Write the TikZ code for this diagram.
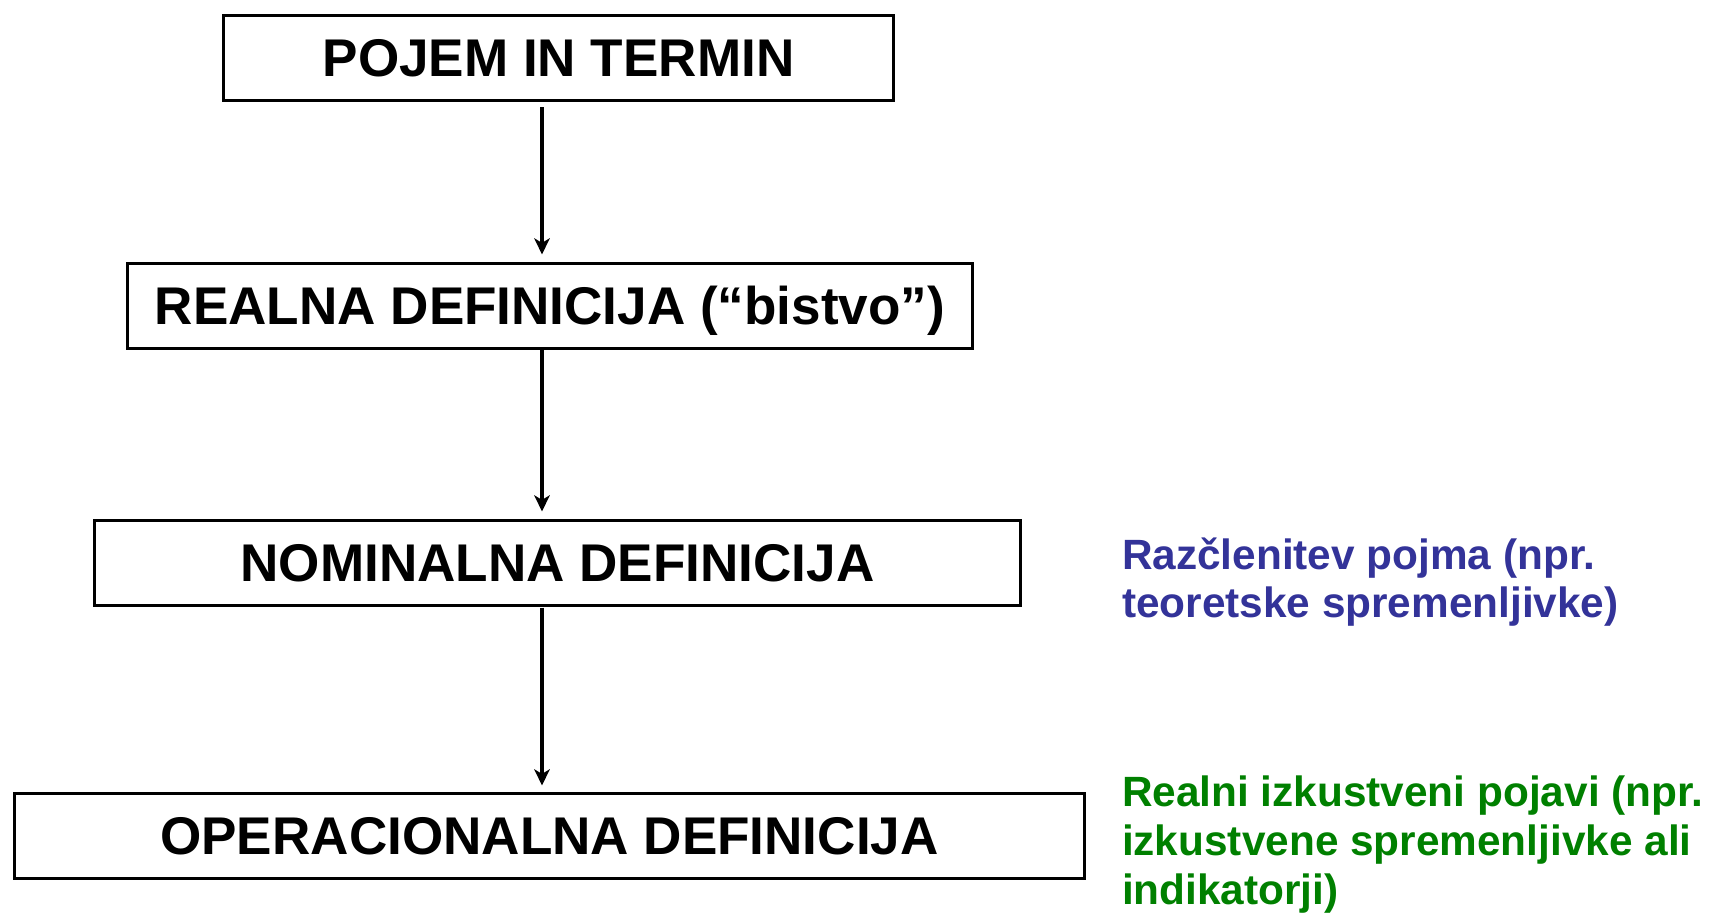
\documentclass[tikz,border=0pt]{standalone}
\usepackage{fontspec}
\setmainfont{Liberation Sans}
\usetikzlibrary{positioning}
\usetikzlibrary{arrows.meta}

\definecolor{opisblue}{RGB}{51,51,153}
\definecolor{opisgreen}{RGB}{0,128,0}

\begin{document}
\begin{tikzpicture}[every node/.style={inner sep=0pt, outer sep=0pt},
    okvir/.style={draw, rectangle, line width=1pt, minimum height=0.85cm,
        font=\fontsize{15.1pt}{18pt}\selectfont\bfseries, text height=10.8pt, text depth=0pt},
    opis/.style={align=left, anchor=base west, font=\fontsize{12.05pt}{13.9pt}\selectfont\bfseries},
    puscica/.style={-{Stealth[length=4.6pt, width=4.4pt, inset=1.3pt]}, line width=0.9pt}]
    \useasboundingbox (0,0) rectangle (17.12,-9.13);
	\node[okvir, minimum width=6.70cm] (pojem) at (5.585,-0.58) {POJEM IN TERMIN};
    \node[okvir, minimum width=8.45cm, below=1.63cm of pojem, xshift=-0.085cm] (realna) {REALNA DEFINICIJA (“bistvo”)};
    \node[okvir, minimum width=9.26cm, below=1.72cm of realna, xshift=0.075cm] (nominalna) {NOMINALNA DEFINICIJA};
    \node[okvir, minimum width=10.70cm, below=1.88cm of nominalna, xshift=-0.08cm] (operacionalna) {OPERACIONALNA DEFINICIJA};
    % arrows
    \coordinate (os) at (5.42,0);
    \draw[puscica, shorten <=0.07cm, shorten >=0.09cm] (pojem.south -| os) -- (realna.north -| os);
    \draw[puscica, shorten <=0.02cm, shorten >=0.09cm] (realna.south -| os) -- (nominalna.north -| os);
    \draw[puscica, shorten <=0.02cm, shorten >=0.08cm] (nominalna.south -| os) -- (operacionalna.north -| os);
    % right side
    \node[opis, text=opisblue] (razclenitev) at (11.22,-6.18) {Razčlenitev pojma (npr.\\teoretske spremenljivke)};
    \node[opis, text=opisgreen] (pojavi) at (11.22,-9.04) {Realni izkustveni pojavi (npr.\\izkustvene spremenljivke ali\\indikatorji)};
\end{tikzpicture}
\end{document}
